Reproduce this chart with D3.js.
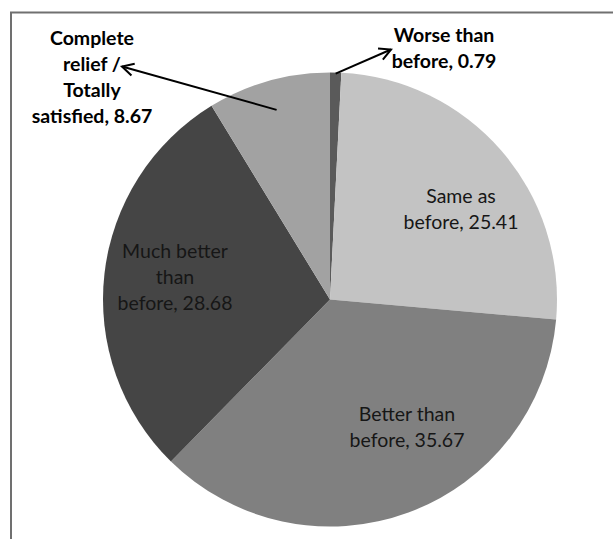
<!DOCTYPE html>
<html>
<head>
<meta charset="utf-8">
<script src="https://cdn.jsdelivr.net/npm/d3@7"></script>
<style>
  html, body { margin: 0; padding: 0; background: #ffffff; }
  svg { display: block; }
  text { font-family: Lato, "Open Sans", sans-serif; }
</style>
</head>
<body>
<svg id="chart" width="613" height="539"></svg>
<script>
// ---- data ----
const categories = ["Worse than before", "Same as before", "Better than before", "Much better than before", "Complete relief / Totally satisfied"];
const values = [0.79, 25.41, 35.67, 28.68, 8.67];
const labelLines = [
  ["Worse than", "before, 0.79"],
  ["Same as", "before, 25.41"],
  ["Better than", "before, 35.67"],
  ["Much better", "than", "before, 28.68"],
  ["Complete", "relief /", "Totally", "satisfied, 8.67"]
];
const sliceColors = ["#5a5a5a", "#c3c3c3", "#808080", "#454545", "#a2a2a2"];

// ---- layout ----
const W = 613, H = 539;
const cx = 330, cy = 299.5, R = 227;
// label anchor (center x, first baseline y), bold = outside label with arrow
const labelLayout = [
  { x: 444, y: 41.5, bold: true, arrowTip: [391, 49.5], arrowR: 0.995 },
  { x: 461, y: 203, bold: false },
  { x: 407, y: 421, bold: false },
  { x: 175, y: 258, bold: false },
  { x: 92, y: 44.5, bold: true, arrowTip: [122, 66.5], arrowR: 0.868 }
];
const lineH = 26;

const svg = d3.select("#chart");
svg.append("rect").attr("width", W).attr("height", H).attr("fill", "#ffffff");

// frame (clipped at right/bottom as in original)
svg.append("rect")
  .attr("x", 11).attr("y", 12.5)
  .attr("width", 700).attr("height", 700)
  .attr("fill", "none").attr("stroke", "#707070").attr("stroke-width", 2);

const pie = d3.pie().sort(null).value(d => d).startAngle(0).endAngle(2 * Math.PI);
const arcs = pie(values);
const arc = d3.arc().innerRadius(0).outerRadius(R);

const g = svg.append("g").attr("transform", `translate(${cx},${cy})`);
g.selectAll("path.slice")
  .data(arcs)
  .join("path")
  .attr("class", "slice")
  .attr("d", arc)
  .attr("fill", (d, i) => sliceColors[i])
  .attr("stroke", "none");

// labels
arcs.forEach((d, i) => {
  const L = labelLayout[i];
  const t = svg.append("text")
    .attr("text-anchor", "middle")
    .attr("font-size", 19.5)
    .attr("font-weight", L.bold ? 700 : 400)
    .attr("fill", L.bold ? "#000000" : "#161616");
  labelLines[i].forEach((s, k) => {
    t.append("tspan").attr("x", L.x).attr("y", L.y + k * lineH).text(s);
  });
  if (L.arrowTip) {
    const mid = (d.startAngle + d.endAngle) / 2;
    const rr = R * L.arrowR;
    const x0 = cx + rr * Math.sin(mid), y0 = cy - rr * Math.cos(mid);
    const [x1, y1] = L.arrowTip;
    svg.append("line")
      .attr("x1", x0).attr("y1", y0).attr("x2", x1).attr("y2", y1)
      .attr("stroke", "#000").attr("stroke-width", 2);
    const ang = Math.atan2(y1 - y0, x1 - x0);
    const hl = 13, ha = Math.PI / 6.5;
    const p1 = [x1 - hl * Math.cos(ang - ha), y1 - hl * Math.sin(ang - ha)];
    const p2 = [x1 - hl * Math.cos(ang + ha), y1 - hl * Math.sin(ang + ha)];
    svg.append("path")
      .attr("d", `M${p1[0]},${p1[1]}L${x1},${y1}L${p2[0]},${p2[1]}`)
      .attr("fill", "none").attr("stroke", "#000").attr("stroke-width", 2)
      .attr("stroke-linejoin", "miter");
  }
});
</script>
</body>
</html>
